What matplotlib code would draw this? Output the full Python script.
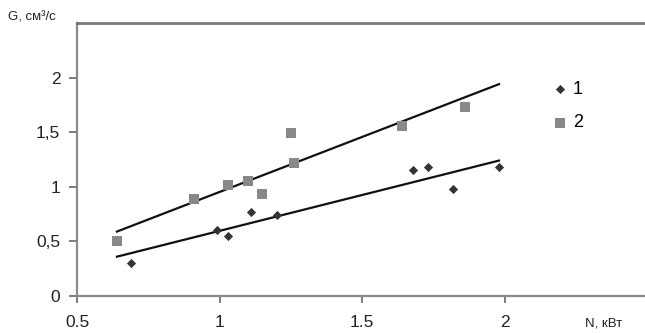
import matplotlib
matplotlib.use("Agg")
import matplotlib.pyplot as plt

# Series 1 (diamonds)
n1 = [0.69, 0.99, 1.03, 1.11, 1.20, 1.68, 1.73, 1.82, 1.98]
g1 = [0.30, 0.60, 0.55, 0.77, 0.74, 1.15, 1.18, 0.98, 1.18]
# Series 2 (squares)
n2 = [0.64, 0.91, 1.03, 1.10, 1.15, 1.25, 1.26, 1.64, 1.86]
g2 = [0.50, 0.89, 1.02, 1.05, 0.93, 1.49, 1.22, 1.56, 1.73]
# Trend lines (endpoints)
trend_x = [0.64, 1.98]
trend1_y = [0.36, 1.24]
trend2_y = [0.59, 1.94]

xticks = [0.5, 1, 1.5, 2]
xticklabels = ["0.5", "1", "1.5", "2"]
yticks = [0, 0.5, 1, 1.5, 2]
yticklabels = ["0", "0,5", "1", "1,5", "2"]

plt.rcParams['font.family'] = ['Liberation Sans', 'DejaVu Sans']

W, H = 645, 333
fig = plt.figure(figsize=(W / 100, H / 100), dpi=100)
ax = fig.add_axes([77 / W, (H - 296) / H, (W - 77) / W - 0.001, (296 - 23) / H])
ax.set_xlim(0.5, 2.49)
ax.set_ylim(0, 2.5)

ax.plot(trend_x, trend1_y, color='#111111', lw=1.6, zorder=2)
ax.plot(trend_x, trend2_y, color='#111111', lw=1.6, zorder=2)
ax.scatter(n1, g1, marker='D', s=22, color='#333333', zorder=3, label='1', linewidths=0)
ax.scatter(n2, g2, marker='s', s=55, color='#888888', zorder=3, label='2', linewidths=0)

for s in ['left', 'bottom']:
    ax.spines[s].set_color('#8a8a8a')
    ax.spines[s].set_linewidth(1.6)
ax.spines['right'].set_visible(False)
ax.spines['top'].set_visible(False)
# top border line of the plot area
fig.add_artist(plt.Line2D([77 / W, 1.0], [1 - 23 / H, 1 - 23 / H], transform=fig.transFigure,
                          color='#777777', lw=2.0, zorder=10))

ax.set_xticks(xticks)
ax.set_xticklabels(xticklabels)
ax.set_yticks(yticks)
ax.set_yticklabels(yticklabels)
ax.tick_params(axis='x', direction='out', length=5, width=1.2, color='#666666',
               labelsize=12.5, pad=9, labelcolor='#222222')
ax.tick_params(axis='y', direction='out', length=6, width=1.2, color='#666666',
               labelsize=12.5, pad=6, labelcolor='#222222')

leg = ax.legend(loc='upper left', bbox_to_anchor=(0.82, 0.82), frameon=False,
                fontsize=13, handletextpad=0.2, labelspacing=0.9, handlelength=1.0,
                borderpad=0)

fig.text(8 / W, 1 - 18 / H, "G, см³/с", fontsize=9.5, color='#222222', va='center', ha='left')
fig.text(585 / W, 1 - 323 / H, "N, кВт", fontsize=9.5, color='#222222', va='center', ha='left')

fig.savefig("out.png", dpi=100)
